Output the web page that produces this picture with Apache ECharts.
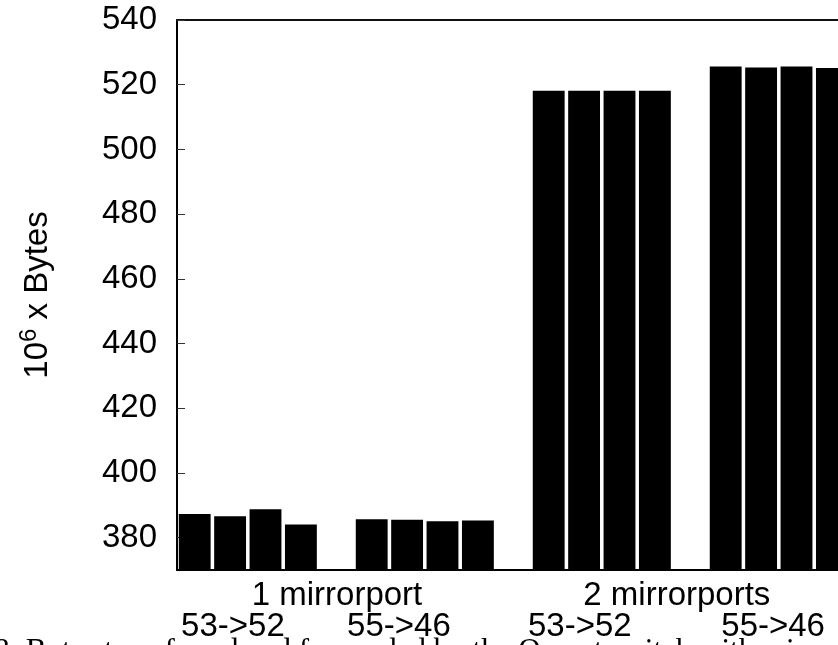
<!DOCTYPE html>
<html>
<head>
<meta charset="utf-8">
<script src="https://cdn.jsdelivr.net/npm/echarts@6/dist/echarts.min.js"></script>
<style>html,body{margin:0;padding:0;background:#fff}#c{width:838px;height:645px}</style>
</head>
<body>
<div id="c"></div>
<script>
// ---- data ----
var slots = ['a1','a2','a3','a4','gap1','b1','b2','b3','b4','gap2','c1','c2','c3','c4','gap3','d1','d2','d3','d4','gap4'];
var oneMirror_53_52 = [387.3, 386.6, 388.8, 384.1];
var oneMirror_55_46 = [385.7, 385.5, 385.1, 385.3];
var twoMirror_53_52 = [518.1, 518.1, 518.1, 518.1];
var twoMirror_55_46 = [525.6, 525.3, 525.6, 525.2];
var yTicks = [380, 400, 420, 440, 460, 480, 500, 520, 540];
var subLabels = ['53->52', '55->46', '53->52', '55->46'];
var groupLabels = ['1 mirrorport', '2 mirrorports'];
var caption = '8: Bytes transferred and forwarded by the Omnet switch with mirrorports. Each bar';

// ---- layout (label positions in slot units) ----
var subPos = [1.58, 6.27, 11.38, 16.84];
var groupPos = [4.52, 14.12];

var values = [].concat(oneMirror_53_52, ['-'], oneMirror_55_46, ['-'], twoMirror_53_52, ['-'], twoMirror_55_46, ['-']);
var FONT = '"Liberation Sans", Arial, sans-serif';

var chart = echarts.init(document.getElementById('c'), null, {renderer: 'canvas'});
chart.setOption({
  animation: false,
  backgroundColor: '#fff',
  grid: {left: 177, top: 20, width: 708, height: 550, outerBoundsMode: 'none', containLabel: false},
  xAxis: [
    {
      type: 'category', data: slots, position: 'bottom',
      axisLine: {show: true, lineStyle: {color: '#000', width: 2}},
      axisTick: {show: false}, axisLabel: {show: false}, splitLine: {show: false}
    },
    {
      type: 'value', min: 0, max: 20, position: 'top',
      axisLine: {show: true, onZero: false, lineStyle: {color: '#111', width: 2}},
      axisTick: {show: false}, axisLabel: {show: false}, splitLine: {show: false}
    }
  ],
  yAxis: {
    type: 'value', min: 370, max: 540,
    name: '10{sup|6} x Bytes', nameLocation: 'middle', nameGap: 118,
    nameTextStyle: {
      fontSize: 33, color: '#000', fontFamily: FONT,
      rich: {sup: {fontSize: 24, color: '#000', fontFamily: FONT, padding: [0, 0, 18, 0]}}
    },
    axisLine: {show: true, lineStyle: {color: '#000', width: 2}},
    axisTick: {show: true, inside: true, length: 8, customValues: yTicks, lineStyle: {color: '#333', width: 1}},
    axisLabel: {customValues: yTicks, fontSize: 33, color: '#000', fontFamily: FONT, margin: 20},
    splitLine: {show: false}
  },
  series: [{
    type: 'bar', xAxisIndex: 0, data: values,
    barCategoryGap: '10%',
    itemStyle: {color: '#000'}
  }]
});

var graphics = [];
subPos.forEach(function (p, i) {
  graphics.push({
    type: 'text', x: chart.convertToPixel({xAxisIndex: 1}, p), y: 610,
    style: {text: subLabels[i], fontSize: 33, fill: '#000', fontFamily: FONT, align: 'center', verticalAlign: 'top'}
  });
});
groupPos.forEach(function (p, i) {
  graphics.push({
    type: 'text', x: chart.convertToPixel({xAxisIndex: 1}, p), y: 579,
    style: {text: groupLabels[i], fontSize: 33, fill: '#000', fontFamily: FONT, align: 'center', verticalAlign: 'top'}
  });
});
graphics.push({
  type: 'text', x: -6, y: 636, z: -1,
  style: {text: caption, fontSize: 31, fill: '#000', fontFamily: '"Liberation Serif", "Times New Roman", serif', verticalAlign: 'top'}
});
chart.setOption({graphic: graphics});
</script>
</body>
</html>
